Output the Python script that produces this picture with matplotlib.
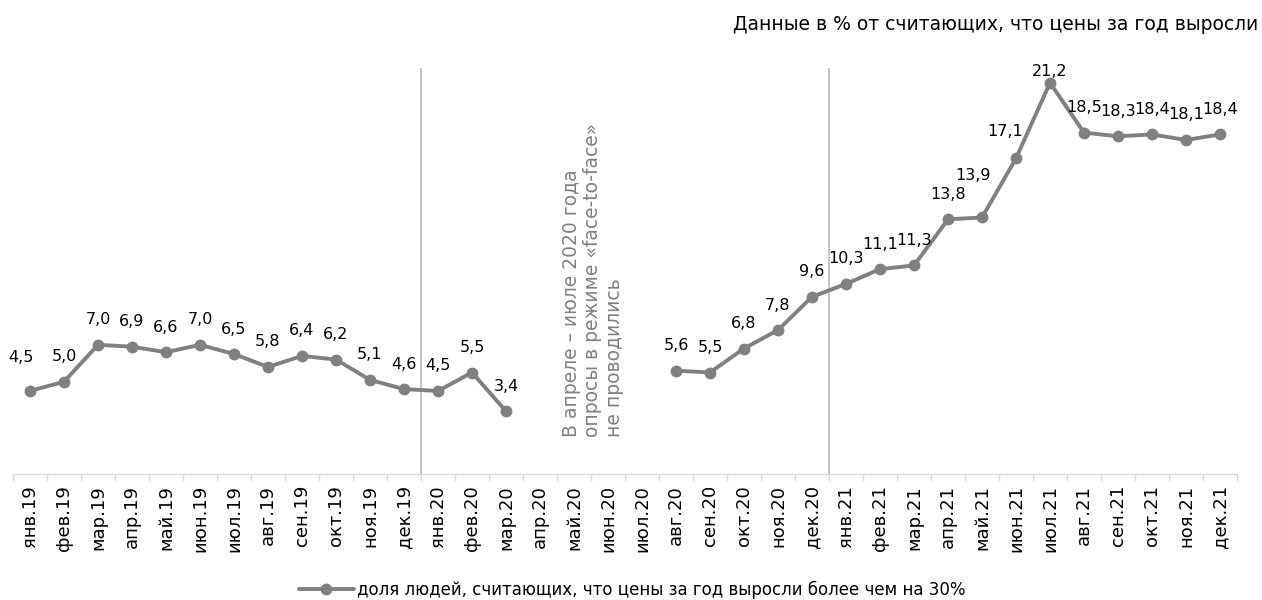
import numpy as np
import matplotlib
matplotlib.use("Agg")
import matplotlib.pyplot as plt

plt.rcParams['font.family'] = ['DejaVu Sans']

months = ["янв", "фев", "мар", "апр", "май", "июн", "июл", "авг", "сен", "окт", "ноя", "дек"]
years = ["19", "20", "21"]
categories = [f"{m}.{y}" for y in years for m in months]

values_2019 = [4.5, 5.0, 7.0, 6.9, 6.6, 7.0, 6.5, 5.8, 6.4, 6.2, 5.1, 4.6]
values_2020 = [4.5, 5.5, 3.4, np.nan, np.nan, np.nan, np.nan, 5.6, 5.5, 6.8, 7.8, 9.6]
values_2021 = [10.3, 11.1, 11.3, 13.8, 13.9, 17.1, 21.2, 18.5, 18.3, 18.4, 18.1, 18.4]
values = values_2019 + values_2020 + values_2021

series_label = "доля людей, считающих, что цены за год выросли более чем на 30%"
title_text = "Данные в % от считающих, что цены за год выросли"
note_text = "В апреле – июле 2020 года\nопросы в режиме «face-to-face»\nне проводились"

# label offsets in pixels (default above the point)
label_offsets = {0: (-9, 33), 28: (-9, 42), 29: (-11, 27), 30: (0, 11)}

W, H = 1262, 600
fig = plt.figure(figsize=(W / 100, H / 100), dpi=100)
ax = fig.add_axes([13 / W, 1 - 474 / H, (1237 - 13) / W, (474 - 68) / H])

x = np.arange(len(categories))
y = np.array(values, dtype=float)
line_color = "#808080"
ax.plot(x, y, color=line_color, lw=2.8, marker="o", ms=7.5, label=series_label,
        solid_capstyle="round", zorder=3)

for i, v in enumerate(values):
    if np.isnan(v):
        continue
    dx, dy = label_offsets.get(i, (0, 25))
    ax.annotate(f"{v:.1f}".replace(".", ","), (i, v), xytext=(dx, dy),
                textcoords="offset pixels", ha="center", va="center",
                fontsize=11.5, color="#000000", zorder=4)

# separators between years
for b in [11.5, 23.5]:
    ax.axvline(b, color="#BFBFBF", lw=1.3, zorder=1)

ax.set_xlim(-0.5, len(categories) - 0.5)
ax.set_ylim(0, 22)
ax.set_xticks(x)
ax.set_xticklabels(categories, rotation=90, fontsize=13, va="top")
ax.tick_params(axis="x", length=0, pad=8)
ax.set_xticks(np.arange(-0.5, len(categories), 1), minor=True)
ax.tick_params(axis="x", which="minor", length=5, color="#D9D9D9", width=1)
ax.set_yticks([])
for s in ["top", "right", "left"]:
    ax.spines[s].set_visible(False)
ax.spines["bottom"].set_color("#D9D9D9")
ax.spines["bottom"].set_linewidth(1)

fig.text(593 / W, 1 - 437 / H, note_text, rotation=90, ha="center", va="bottom",
         multialignment="left", fontsize=13.5, color="#808080", linespacing=1.15)

fig.text(1258 / W, 1 - 25 / H, title_text, ha="right", va="center", fontsize=13.5,
         color="#000000")

fig.legend(loc="center", bbox_to_anchor=(632 / W, 1 - 590 / H), frameon=False,
           fontsize=12, handlelength=3.3, handletextpad=0.2)

fig.savefig("out.png", dpi=100)
